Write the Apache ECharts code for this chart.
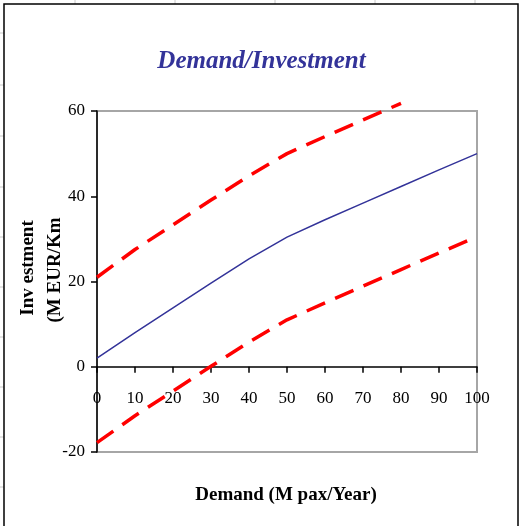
<!DOCTYPE html>
<html>
<head>
<meta charset="utf-8">
<script src="https://cdn.jsdelivr.net/npm/echarts@6/dist/echarts.min.js"></script>
<style>
  html, body { margin: 0; padding: 0; background: #fff; }
  #chart { width: 523px; height: 526px; }
</style>
</head>
<body>
<div id="chart"></div>
<script>
// demand (M pax/year)
var demand = [0, 10, 20, 30, 40, 50, 60, 70, 80, 90, 100];
// investment, central estimate
var invMid = [2, 8, 13.8, 19.6, 25.3, 30.4, 34.5, 38.4, 42.3, 46.2, 50];
// upper / lower bounds (upper stops just past the top of the axis)
var invHigh = [21, 27.5, 33.3, 39.1, 44.8, 50, 54, 57.9, 61.8];
var invLow = [-17.8, -11.5, -5.7, 0.1, 5.8, 11, 15, 18.9, 22.8, 26.7, 30.5];
var yTicks = { min: -20, max: 60, step: 20 };
var xTicks = { min: 0, max: 100, step: 10 };

function pairs(xs, ys) {
    var out = [];
    for (var i = 0; i < ys.length; i++) out.push([xs[i], ys[i]]);
    return out;
}

var chart = echarts.init(document.getElementById('chart'));
var serif = '"Liberation Serif", "Times New Roman", serif';

// plot box in pixels; x axis crosses the y axis at 0
var gridTop = 111, gridBottom = 74, plotH = 526 - gridTop - gridBottom;
var zeroOffset = -plotH * (0 - yTicks.min) / (yTicks.max - yTicks.min);

// spreadsheet cell lines peeking out round the chart frame
var cellLines = [];
[75, 175, 275, 375, 475].forEach(function (x) {
    cellLines.push({ type: 'line', shape: { x1: x, y1: 0, x2: x, y2: 4 }, style: { stroke: '#c8c8c8', lineWidth: 1 }, silent: true });
});
[33, 85, 136, 187, 237, 287, 337, 387, 437, 487].forEach(function (y) {
    cellLines.push({ type: 'line', shape: { x1: 0, y1: y, x2: 4, y2: y }, style: { stroke: '#c8c8c8', lineWidth: 1 }, silent: true });
});

var option = {
    animation: false,
    title: {
        text: 'Demand/Investment',
        left: 'center',
        top: 44,
        textStyle: {
            fontFamily: serif,
            fontStyle: 'italic',
            fontWeight: 'bold',
            fontSize: 25,
            color: '#333399'
        }
    },
    grid: {
        left: 97,
        right: 46,
        top: gridTop,
        bottom: gridBottom,
        show: true,
        borderColor: '#a6a6a6',
        borderWidth: 2,
        backgroundColor: 'transparent'
    },
    xAxis: {
        type: 'value',
        min: xTicks.min,
        max: xTicks.max,
        interval: xTicks.step,
        offset: zeroOffset,
        axisLine: { onZero: false, lineStyle: { color: '#000', width: 1.5 } },
        axisTick: { show: true, length: 6, lineStyle: { color: '#000', width: 1.5 } },
        axisLabel: { fontFamily: serif, fontSize: 17, color: '#000', margin: 23 },
        splitLine: { show: false }
    },
    yAxis: {
        type: 'value',
        min: yTicks.min,
        max: yTicks.max,
        interval: yTicks.step,
        axisLine: { show: true, lineStyle: { color: '#000', width: 1.5 } },
        axisTick: { show: true, length: 6, lineStyle: { color: '#000', width: 1.5 } },
        axisLabel: { fontFamily: serif, fontSize: 17, color: '#000', margin: 12 },
        splitLine: { show: false }
    },
    graphic: cellLines.concat([
        {
            type: 'rect',
            shape: { x: 4, y: 4, width: 514, height: 540 },
            style: { fill: 'none', stroke: '#000', lineWidth: 1.5 },
            silent: true
        },
        {
            type: 'text',
            x: 28, y: 268,
            rotation: Math.PI / 2,
            style: {
                text: 'Inv estment',
                fontFamily: serif, fontWeight: 'bold', fontSize: 19, fill: '#000',
                align: 'center', verticalAlign: 'middle'
            }
        },
        {
            type: 'text',
            x: 55, y: 270,
            rotation: Math.PI / 2,
            style: {
                text: '(M EUR/Km',
                fontFamily: serif, fontWeight: 'bold', fontSize: 19, fill: '#000',
                align: 'center', verticalAlign: 'middle'
            }
        },
        {
            type: 'text',
            x: 286, y: 495,
            style: {
                text: 'Demand (M pax/Year)',
                fontFamily: serif, fontWeight: 'bold', fontSize: 19, fill: '#000',
                align: 'center', verticalAlign: 'middle'
            }
        }
    ]),
    series: [
        {
            type: 'line',
            name: 'high',
            data: pairs(demand, invHigh),
            showSymbol: false,
            clip: false,
            lineStyle: { color: '#ff0000', width: 3.5, type: [20, 11] }
        },
        {
            type: 'line',
            name: 'mid',
            data: pairs(demand, invMid),
            showSymbol: false,
            lineStyle: { color: '#333399', width: 1.5 }
        },
        {
            type: 'line',
            name: 'low',
            data: pairs(demand, invLow),
            showSymbol: false,
            lineStyle: { color: '#ff0000', width: 3.5, type: [20, 11] }
        }
    ]
};
chart.setOption(option);
</script>
</body>
</html>
